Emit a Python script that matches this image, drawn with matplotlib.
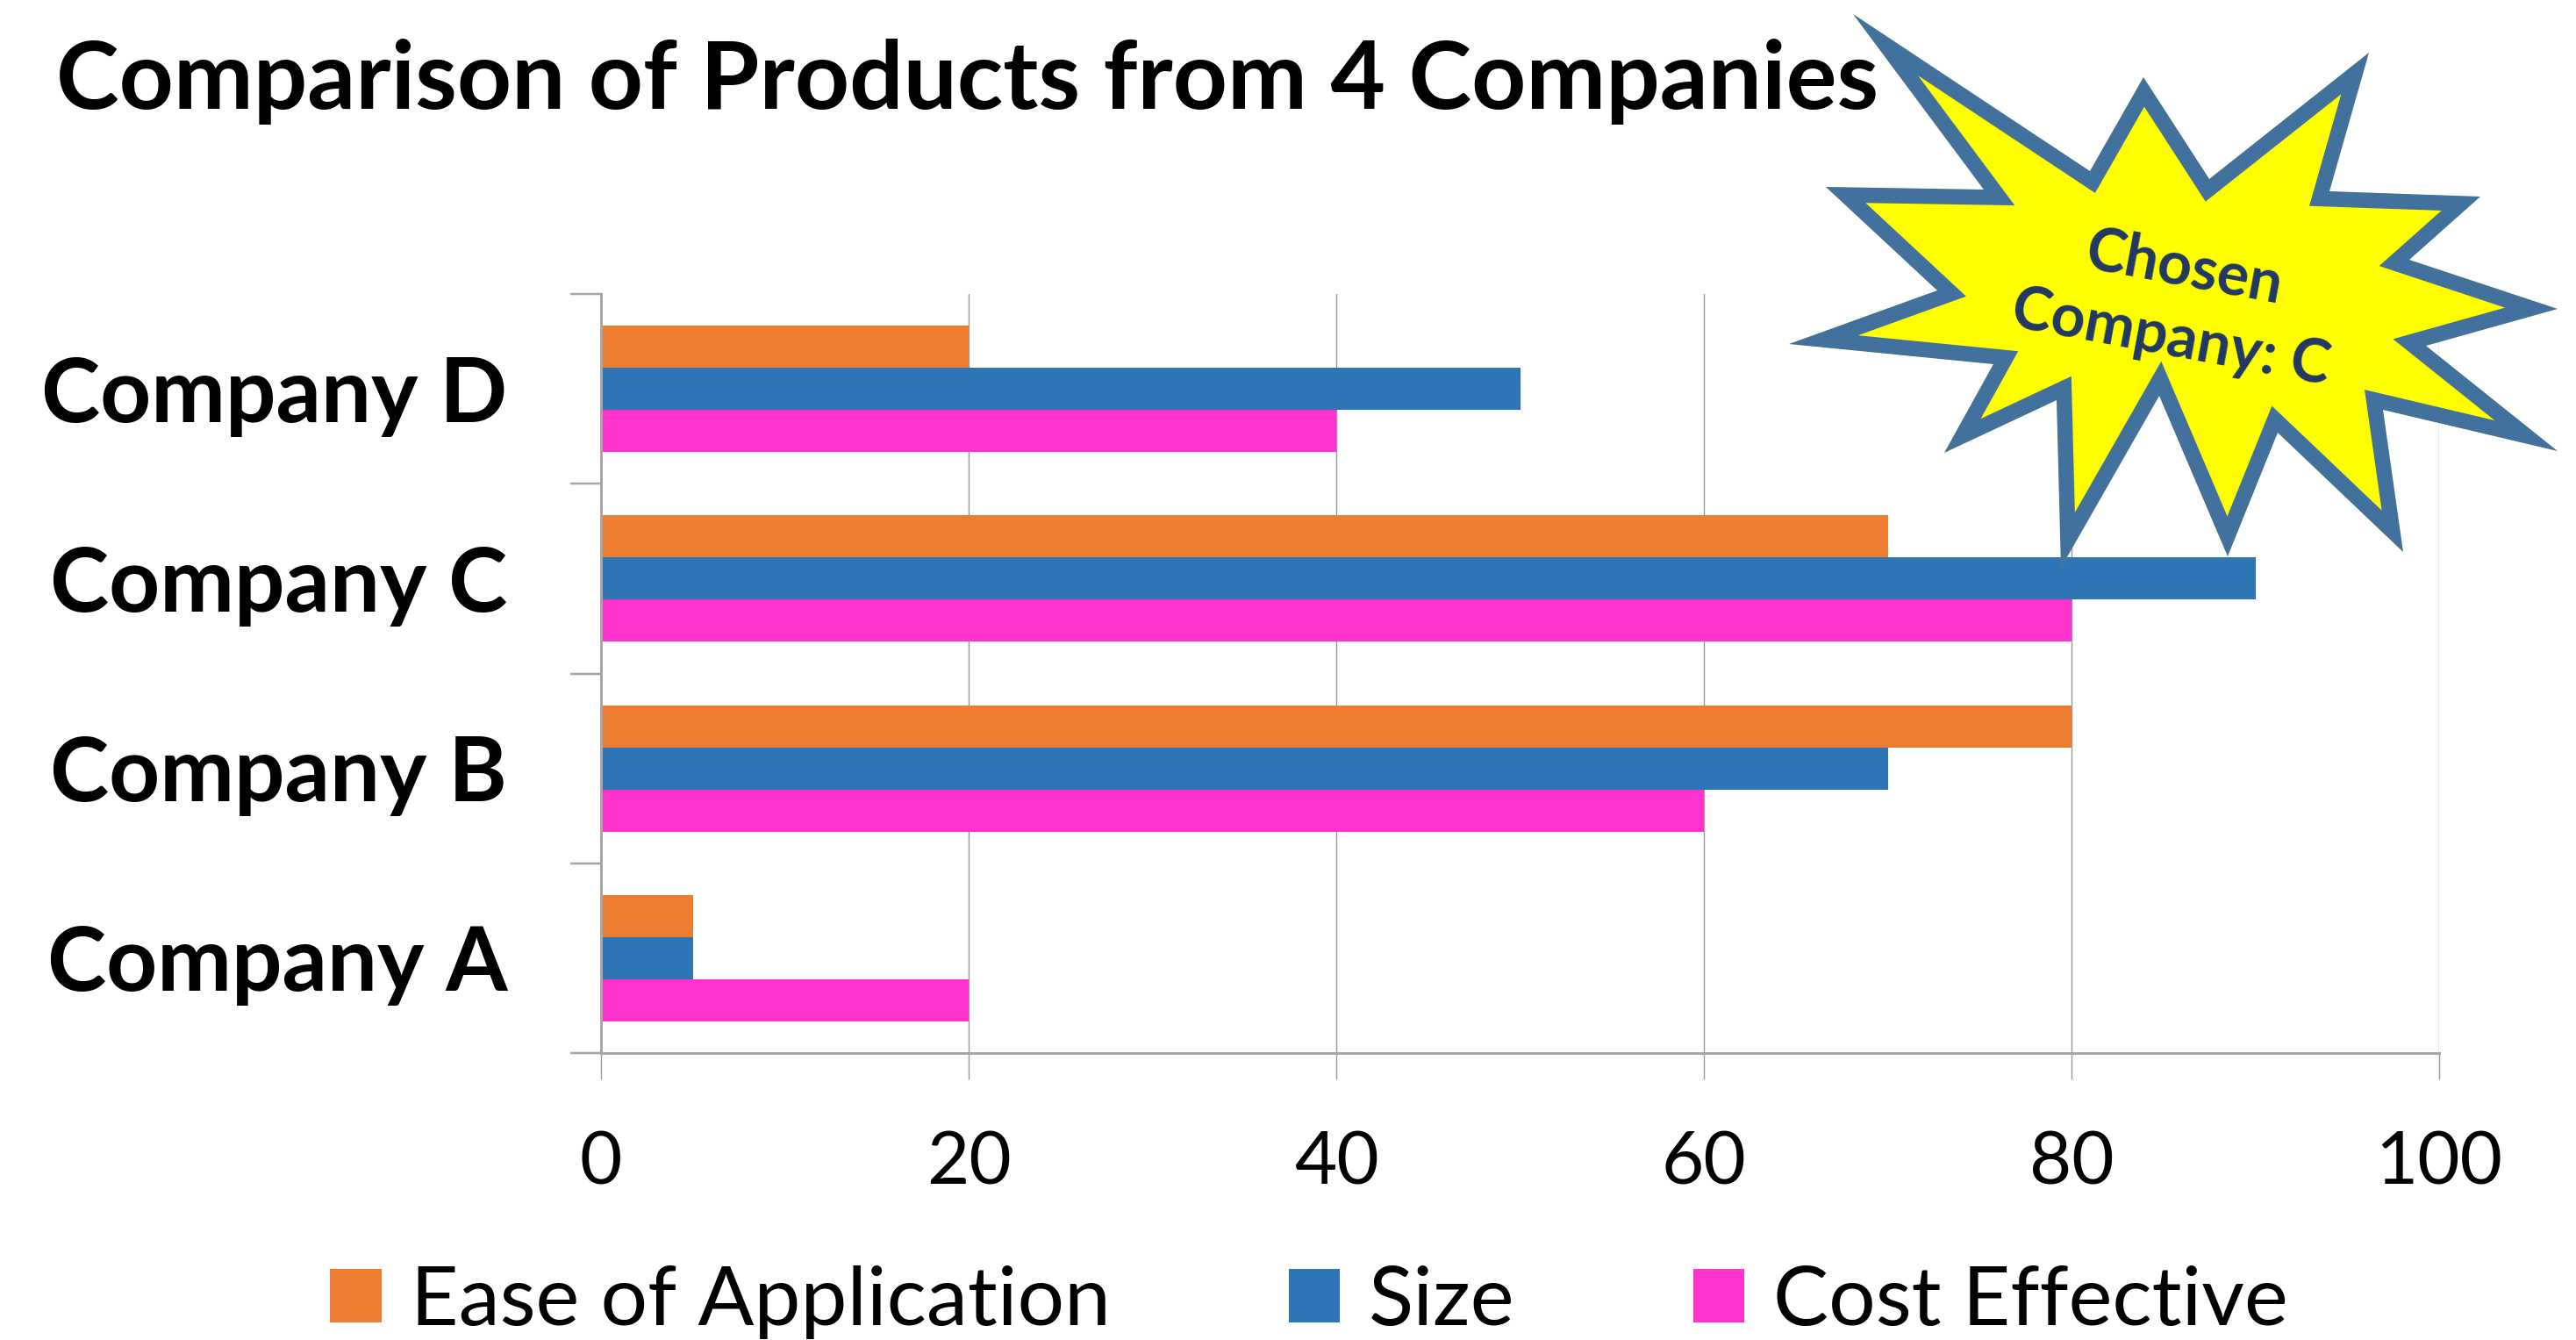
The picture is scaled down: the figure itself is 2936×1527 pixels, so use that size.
import numpy as np
import matplotlib
matplotlib.use('Agg')
import matplotlib.pyplot as plt
from matplotlib.patches import Polygon, Patch

# Data
companies = ['Company A', 'Company B', 'Company C', 'Company D']
series_names = ['Ease of Application', 'Size', 'Cost Effective']
ease = [5, 80, 70, 20]
size = [5, 70, 90, 50]
cost = [20, 60, 80, 40]
colors = ['#ED7D31', '#2E75B6', '#FF33CC']
x_ticks = [0, 20, 40, 60, 80, 100]
callout = 'Chosen\nCompany: C'

W, H = 2936, 1527
DPI = 100
PX = 72.0 / DPI  # points per pixel

plt.rcParams['font.family'] = ['Lato', 'DejaVu Sans']

fig = plt.figure(figsize=(W / DPI, H / DPI), dpi=DPI)
ax = fig.add_axes([685 / W, 1 - 1200 / H, (2780 - 685) / W, (1200 - 335) / H])

y = np.arange(len(companies))
h = 2.0 / 9
ax.barh(y + h, ease, height=h, color=colors[0], zorder=2)
ax.barh(y, size, height=h, color=colors[1], zorder=2)
ax.barh(y - h, cost, height=h, color=colors[2], zorder=2)

ax.set_xlim(0, 100)
ax.set_ylim(-0.5, len(companies) - 0.5)
ax.set_xticks(x_ticks)
ax.set_xticklabels([str(v) for v in x_ticks], fontsize=60)
ax.set_yticks(y)
ax.set_yticklabels(companies, fontsize=73, fontweight='bold')
ax.set_yticks(np.arange(-0.5, len(companies)), minor=True)

ax.grid(axis='x', color='#999999', linewidth=1.4 * PX, zorder=0)
ax.tick_params(axis='x', direction='out', length=30 * PX, width=1.4 * PX,
               color='#999999', pad=42)
ax.tick_params(axis='y', which='major', length=0, pad=77)
ax.tick_params(axis='y', which='minor', direction='out', length=35 * PX,
               width=2.5 * PX, color='#a6a6a6')

for s in ['top', 'right']:
    ax.spines[s].set_visible(False)
for s in ['left', 'bottom']:
    ax.spines[s].set_color('#a6a6a6')
    ax.spines[s].set_linewidth(3 * PX)
    ax.spines[s].set_zorder(3)

# Title
fig.text(64 / W, 1 - 124 / H, 'Comparison of Products from 4 Companies',
         fontsize=78, fontweight='bold', ha='left', va='baseline')

# Legend
handles = [Patch(facecolor=c, edgecolor='none') for c in colors]
fig.legend(handles, series_names, loc='center', ncol=3, frameon=False,
           bbox_to_anchor=(1492 / W, 1 - 1484 / H), fontsize=68,
           handlelength=0.62, handleheight=0.62, handletextpad=0.35,
           columnspacing=2.15, borderaxespad=0, borderpad=0)

# Explosion callout (pixel coords of outer edge, y down)
star_px = [(2112, 16), (2382, 195), (2443, 88), (2518, 204), (2700, 60),
           (2655, 218), (2827, 224), (2746, 296), (2915, 352), (2765, 394),
           (2915, 514), (2716, 467), (2739, 629), (2596, 493), (2539, 634),
           (2461, 451), (2349, 647), (2344, 456), (2216, 516), (2272, 415),
           (2039, 392), (2208, 331), (2081, 213), (2261, 216)]
pts = [(px / W, 1 - py / H) for px, py in star_px]
star = Polygon(pts, closed=True, transform=fig.transFigure, facecolor='#FFFF00',
               edgecolor='#41719C', linewidth=35 * PX, joinstyle='miter', zorder=10)
clip = Polygon(pts, closed=True, transform=fig.transFigure)
star.set_clip_path(clip)
fig.add_artist(star)

fig.text(2482 / W, 1 - 346 / H, callout, fontsize=49, fontweight='bold',
         color='#203864', ha='center', va='center', rotation=-10.5,
         rotation_mode='anchor', multialignment='center', linespacing=1.35,
         zorder=11)

fig.savefig('out.png', dpi=DPI)
